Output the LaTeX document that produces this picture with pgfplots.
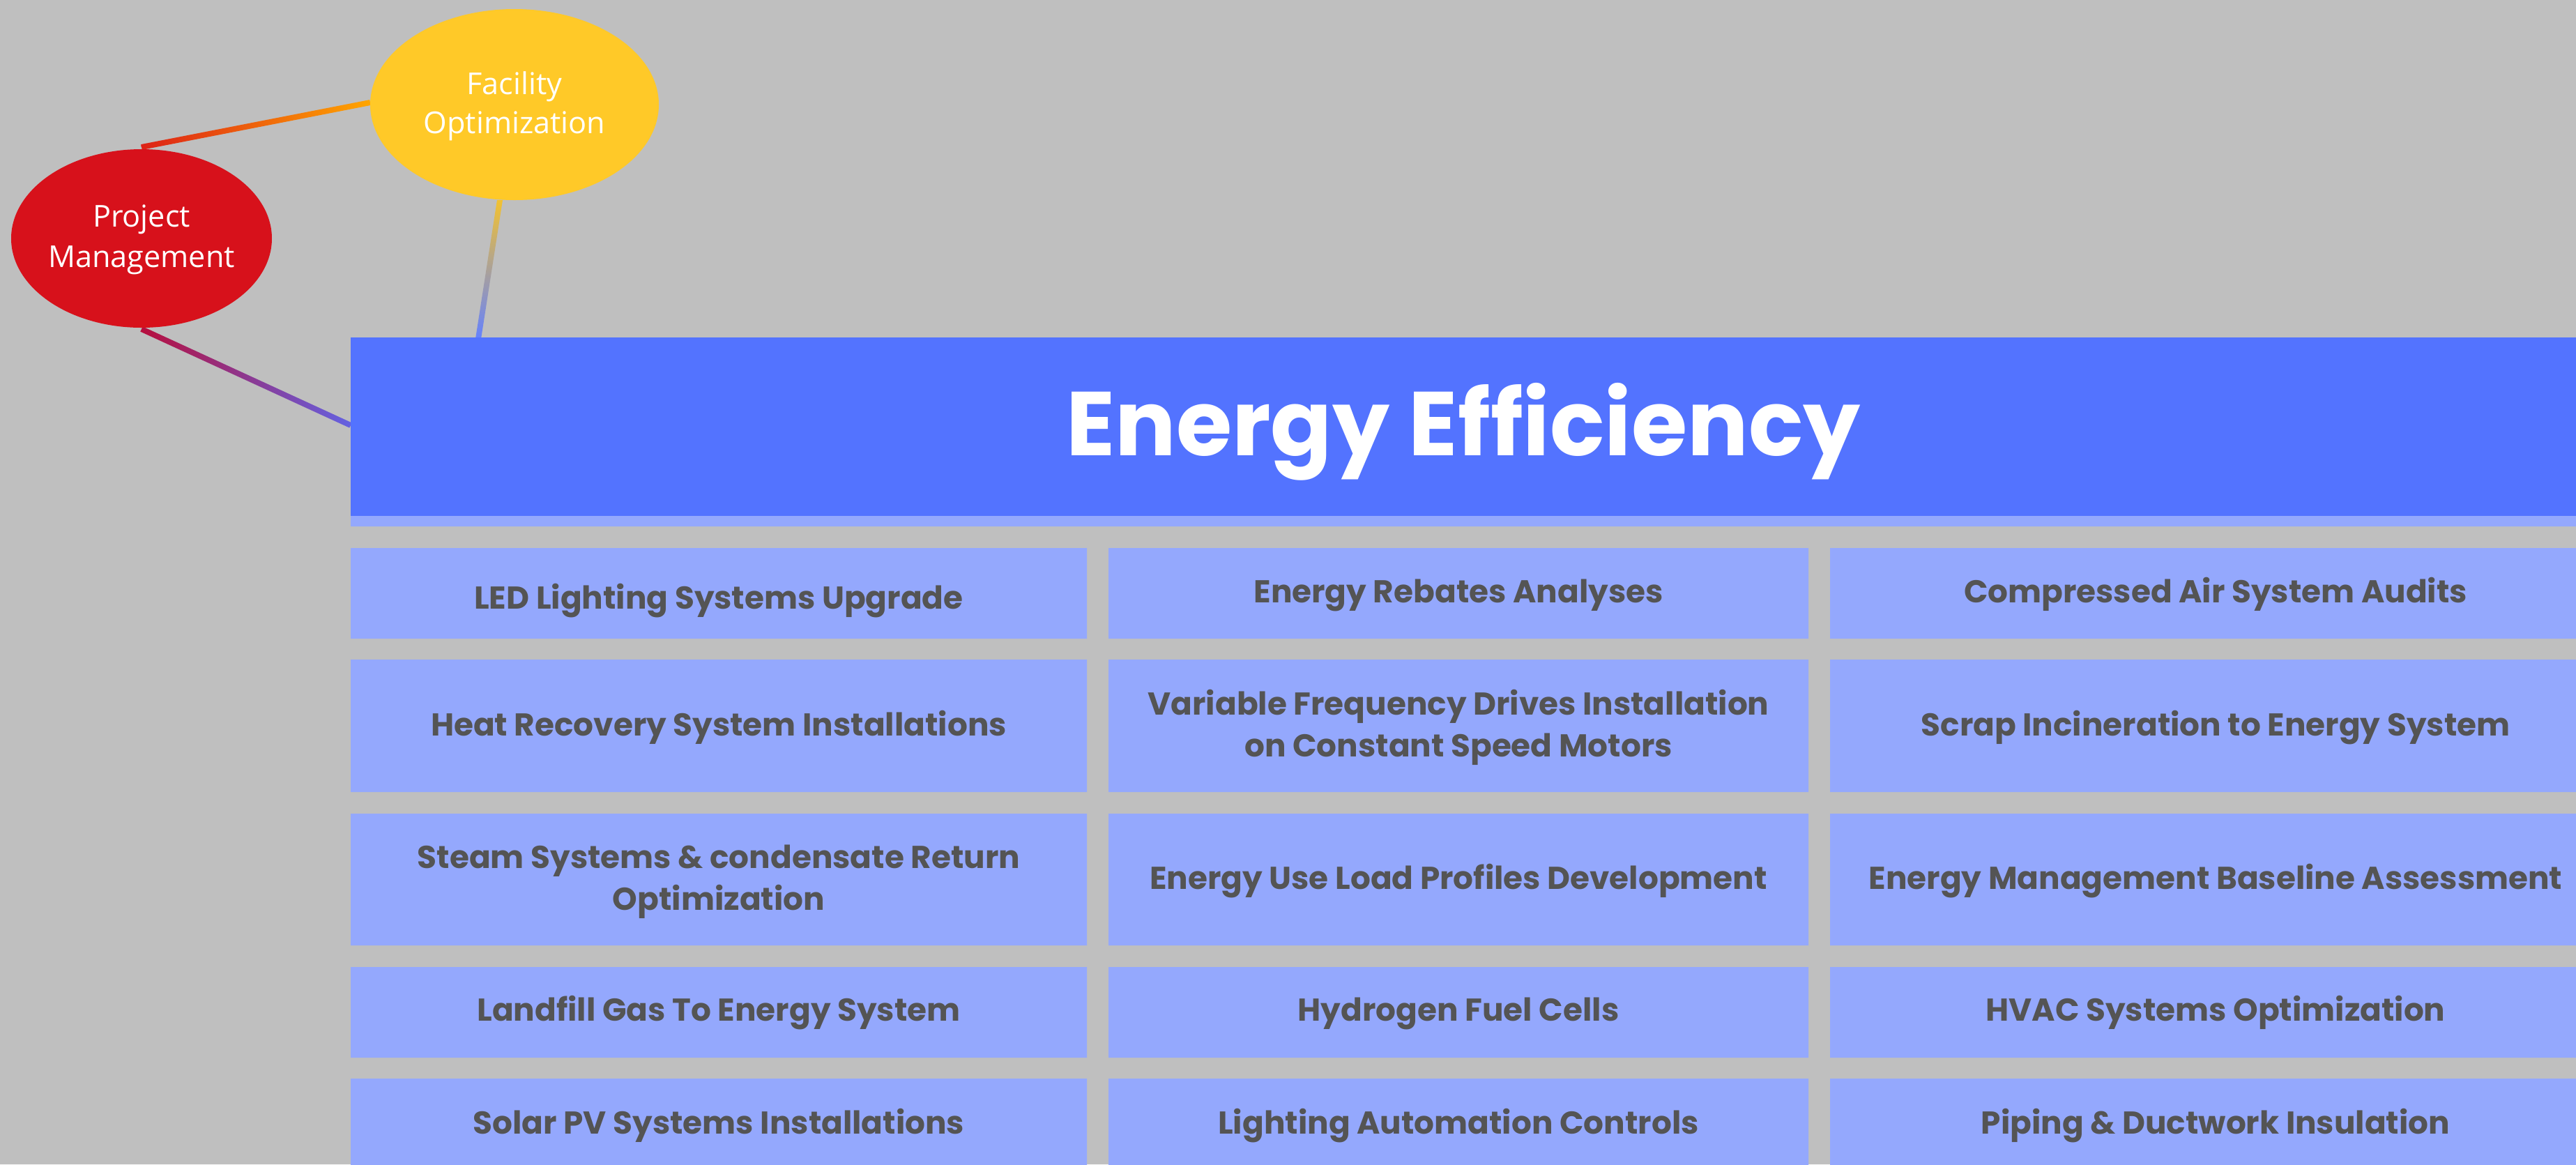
\documentclass[border=0pt]{standalone}
\usepackage{pgfplots}
\pgfplotsset{compat=1.18}
\usepackage{fontspec}
\newfontfamily\pop{Poppins}
\newfontfamily\osans{Open Sans}
\definecolor{bg}{HTML}{BFBFBF}
\definecolor{hdr}{HTML}{5373FF}
\definecolor{cell}{HTML}{94A8FD}
\definecolor{txt}{HTML}{545454}
\definecolor{pmred}{HTML}{D7111B}
\definecolor{foyel}{HTML}{FFC928}
\tikzset{
  boxtext/.style={anchor=base, text=txt, inner sep=0pt, font=\pop\bfseries\fontsize{12.9}{14}\selectfont},
  circtext/.style={anchor=base, text=white, inner sep=0pt, font=\osans\fontsize{12.3}{14}\selectfont}}
\begin{document}
\begin{tikzpicture}
\begin{axis}[width=369.5mm, height=167mm, scale only axis,
  xmin=0, xmax=3695, ymin=0, ymax=1670, y dir=reverse, hide axis, clip=true]
% background
\addplot[fill=bg, draw=none] coordinates {(0,0) (3695,0) (3695,1670) (0,1670) (0,0)};
% connector lines
\shade[left color=pmred!85!orange, right color=orange!70!yellow]
  (axis cs:202.2,207.1) -- (axis cs:530.2,143.1) -- (axis cs:531.8,150.9) -- (axis cs:203.8,214.9) -- cycle;
\shade[top color=foyel!90!gray, bottom color=hdr!90!white]
  (axis cs:713,287) -- (axis cs:721,287) -- (axis cs:690,486) -- (axis cs:682,486) -- cycle;
\shade[left color=pmred!85!blue, right color=hdr!85!purple]
  (axis cs:204.7,468.4) -- (axis cs:504.7,606.4) -- (axis cs:501.3,613.6) -- (axis cs:201.3,475.6) -- cycle;
% header
\addplot[fill=hdr, draw=none] coordinates {(503,484) (3695,484) (3695,740) (503,740) (503,484)};
\addplot[fill=cell, draw=none] coordinates {(503,740) (3695,740) (3695,755) (503,755) (503,740)};
% cells
\addplot[fill=cell, draw=none] coordinates {(503,786) (1559,786) (1559,916) (503,916) (503,786)};
\addplot[fill=cell, draw=none] coordinates {(1590,786) (2594,786) (2594,916) (1590,916) (1590,786)};
\addplot[fill=cell, draw=none] coordinates {(2625,786) (3720,786) (3720,916) (2625,916) (2625,786)};
\addplot[fill=cell, draw=none] coordinates {(503,946) (1559,946) (1559,1136) (503,1136) (503,946)};
\addplot[fill=cell, draw=none] coordinates {(1590,946) (2594,946) (2594,1136) (1590,1136) (1590,946)};
\addplot[fill=cell, draw=none] coordinates {(2625,946) (3720,946) (3720,1136) (2625,1136) (2625,946)};
\addplot[fill=cell, draw=none] coordinates {(503,1167) (1559,1167) (1559,1356) (503,1356) (503,1167)};
\addplot[fill=cell, draw=none] coordinates {(1590,1167) (2594,1167) (2594,1356) (1590,1356) (1590,1167)};
\addplot[fill=cell, draw=none] coordinates {(2625,1167) (3720,1167) (3720,1356) (2625,1356) (2625,1167)};
\addplot[fill=cell, draw=none] coordinates {(503,1387) (1559,1387) (1559,1517) (503,1517) (503,1387)};
\addplot[fill=cell, draw=none] coordinates {(1590,1387) (2594,1387) (2594,1517) (1590,1517) (1590,1387)};
\addplot[fill=cell, draw=none] coordinates {(2625,1387) (3720,1387) (3720,1517) (2625,1517) (2625,1387)};
\addplot[fill=cell, draw=none] coordinates {(503,1547) (1559,1547) (1559,1700) (503,1700) (503,1547)};
\addplot[fill=cell, draw=none] coordinates {(1590,1547) (2594,1547) (2594,1700) (1590,1700) (1590,1547)};
\addplot[fill=cell, draw=none] coordinates {(2625,1547) (3720,1547) (3720,1700) (2625,1700) (2625,1547)};
% ellipses
\fill[pmred] (axis cs:203,342) ellipse [x radius=18.7mm, y radius=12.8mm];
\fill[foyel] (axis cs:738,150) ellipse [x radius=20.7mm, y radius=13.7mm];
\node[circtext] at (axis cs:203,325) {Project};
\node[circtext] at (axis cs:203,383) {Management};
\node[circtext] at (axis cs:738,135) {Facility};
\node[circtext] at (axis cs:738,191) {Optimization};
% title
\node[anchor=base, text=white, inner sep=0pt, font=\pop\bfseries\fontsize{37}{40}\selectfont] at (axis cs:2099,653) {Energy Efficiency};
% cell texts
\node[boxtext] at (axis cs:1031,873) {LED Lighting Systems Upgrade};
\node[boxtext] at (axis cs:2092,864) {Energy Rebates Analyses};
\node[boxtext] at (axis cs:3178,864) {Compressed Air System Audits};
\node[boxtext] at (axis cs:1031,1055) {Heat Recovery System Installations};
\node[boxtext] at (axis cs:2092,1025) {Variable Frequency Drives Installation};
\node[boxtext] at (axis cs:2092,1085) {on Constant Speed Motors};
\node[boxtext] at (axis cs:3178,1055) {Scrap Incineration to Energy System};
\node[boxtext] at (axis cs:1031,1245) {Steam Systems \& condensate Return};
\node[boxtext] at (axis cs:1031,1305) {Optimization};
\node[boxtext] at (axis cs:2092,1275) {Energy Use Load Profiles Development};
\node[boxtext] at (axis cs:3178,1275) {Energy Management Baseline Assessment};
\node[boxtext] at (axis cs:1031,1464) {Landfill Gas To Energy System};
\node[boxtext] at (axis cs:2092,1464) {Hydrogen Fuel Cells};
\node[boxtext] at (axis cs:3178,1464) {HVAC Systems Optimization};
\node[boxtext] at (axis cs:1031,1626) {Solar PV Systems Installations};
\node[boxtext] at (axis cs:2092,1626) {Lighting Automation Controls};
\node[boxtext] at (axis cs:3178,1626) {Piping \& Ductwork Insulation};
\end{axis}
\end{tikzpicture}
\end{document}
